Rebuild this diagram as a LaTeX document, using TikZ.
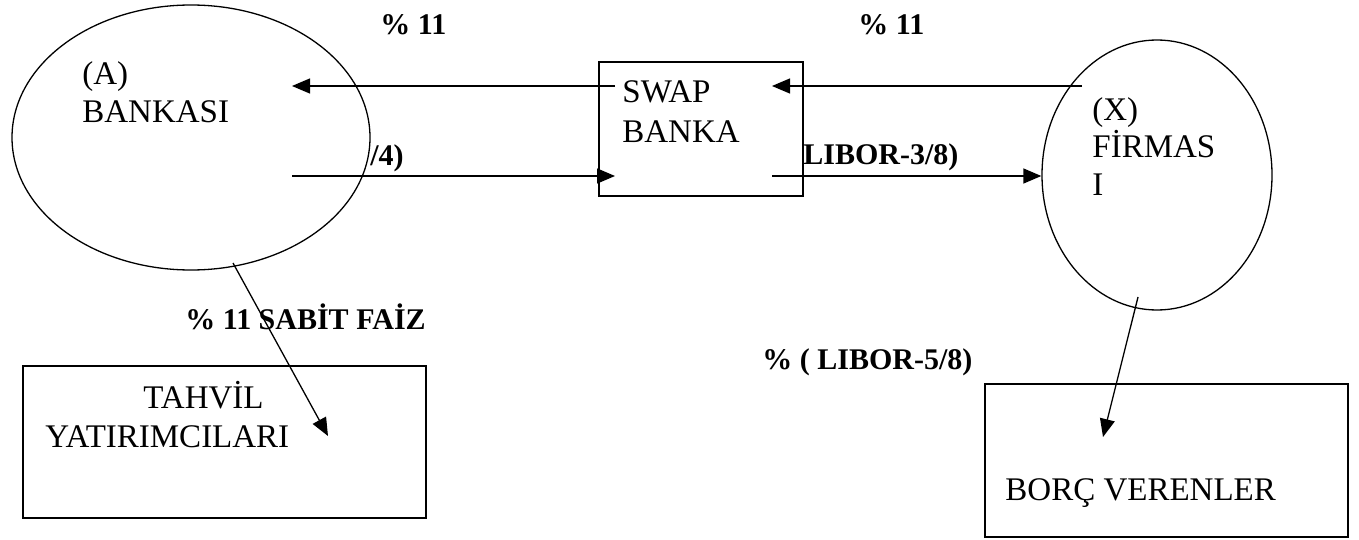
\documentclass[tikz,border=0pt]{standalone}
\usepackage{fontspec}
\setmainfont{Liberation Serif}
\usetikzlibrary{arrows.meta,positioning,shapes.geometric}

\tikzset{
  party/.style={draw,ellipse,line width=0.65pt,inner sep=0pt},
  holder/.style={draw,rectangle,line width=0.8pt,inner sep=0pt},
  nametext/.style={font=\fontsize{16.5}{18}\selectfont,anchor=base west,inner sep=0pt},
  ratetext/.style={font=\fontsize{15}{17}\selectfont\bfseries,anchor=base west,inner sep=0pt},
  flow/.style={-{Triangle[length=9pt,width=7.5pt]},line width=0.65pt},
}

\begin{document}
\begin{tikzpicture}[x=0.5pt,y=-0.5pt]
  \useasboundingbox (0,0) rectangle (1359,540);

  % Parties of the swap.
  \node[party,minimum width=179pt,minimum height=132.5pt] (bank) at (191,137.5) {};
  \node[party,minimum width=115pt,minimum height=135pt] (firm) at (1157,175) {};
  \node[holder,minimum width=102pt,minimum height=67pt] (swap) at (701,129) {};
  \node[holder,minimum width=201.5pt,minimum height=76pt] (bonds) at (224.5,442) {};
  \node[holder,minimum width=181.5pt,minimum height=76.5pt] (lenders) at (1166.5,460.5) {};

  \node[nametext] (bankA) at (82,85) {(A)};
  \node[nametext] (bankName) at (82,122) {BANKASI};
  \node[nametext] (swapA) at (622,103) {SWAP};
  \node[nametext] (swapName) at (622,142) {BANKA};
  \node[nametext] (firmX) at (1092,120) {(X)};
  \node[nametext] (firmName) at (1092,157) {FİRMAS};
  \node[nametext] (firmEnd) at (1092,195) {I};
  \node[nametext] (bondsA) at (143,408) {TAHVİL};
  \node[nametext] (bondsName) at (45,447) {YATIRIMCILARI};
  \node[nametext] (lendersName) at (1005,500) {BORÇ VERENLER};

  % Rates paid along the flows.
  \node[ratetext] (fixLeft) at (380,35) {\% 11};
  \node[ratetext] (fixRight) at (858,35) {\% 11};
  \node[ratetext] (floatLeft) at (370,165) {/4)};
  \node[ratetext] (floatRight) at (803,164) {LIBOR-3/8)};
  \node[ratetext] (fixBond) at (185,329) {\% 11 SABİT FAİZ};
  \node[ratetext] (floatLoan) at (762,369) {\% ( LIBOR-5/8)};

  % Flow end points.
  \coordinate (bankFixIn) at (292,86);
  \coordinate (bankFloatOut) at (292,176);
  \coordinate (swapFixOut) at (615,86);
  \coordinate (swapFloatIn) at (615,176);
  \coordinate (swapFixIn) at (772,86);
  \coordinate (swapFloatOut) at (772,176);
  \coordinate (firmFixOut) at (1082,86);
  \coordinate (bankBondOut) at (233,263);
  \coordinate (bondsIn) at (328,436);
  \coordinate (firmLoanOut) at (1138,297);
  \coordinate (lendersIn) at (1103,437);

  \draw[flow] (swapFixOut) -- (bankFixIn);
  \draw[flow] (bankFloatOut) -- (swapFloatIn);
  \draw[flow] (firmFixOut) -- (swapFixIn);
  \draw[flow] (swapFloatOut) -- (swapFloatOut -| firm.west);
  \draw[flow] (bankBondOut) -- (bondsIn);
  \draw[flow] (firmLoanOut) -- (lendersIn);
\end{tikzpicture}
\end{document}
